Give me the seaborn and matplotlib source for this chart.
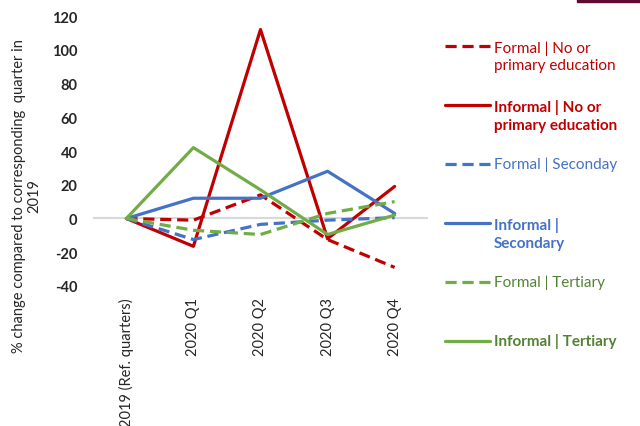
import pandas as pd
import seaborn as sns
import matplotlib.pyplot as plt
from matplotlib.lines import Line2D
from matplotlib.patches import Rectangle

quarters = ['2019 (Ref. quarters)', '2020 Q1', '2020 Q2', '2020 Q3', '2020 Q4']

series_names = [
    'Formal | No or\nprimary education',
    'Informal | No or\nprimary education',
    'Formal | Seconday',
    'Informal |\nSecondary',
    'Formal | Tertiary',
    'Informal | Tertiary',
]

formal_primary = [0, -1, 14, -12.5, -29]
informal_primary = [0, -16.5, 112, -12, 19]
formal_secondary = [0, -12.5, -3.5, -1, 0.5]
informal_secondary = [0, 12, 12, 28, 3]
formal_tertiary = [0, -7, -9.5, 3, 10]
informal_tertiary = [0, 42, 17, -9.5, 2]

values = [formal_primary, informal_primary, formal_secondary,
          informal_secondary, formal_tertiary, informal_tertiary]

red, blue, green = '#C00000', '#4472C4', '#70AD47'
line_colors = [red, red, blue, blue, green, green]
text_colors = [red, red, blue, blue, '#548235', '#548235']
is_formal = [True, False, True, False, True, False]

rows = []
for name, vals in zip(series_names, values):
    for q, v in zip(quarters, vals):
        rows.append({'quarter': q, 'change': v, 'series': name})
df = pd.DataFrame(rows)

sns.set_style('white')
plt.rcParams['font.family'] = ['Lato', 'DejaVu Sans']
plt.rcParams['axes.unicode_minus'] = False

fig = plt.figure(figsize=(6.4, 4.27), dpi=100)
ax = fig.add_axes([0.145, 0.328, 0.524, 0.632])

palette = dict(zip(series_names, line_colors))
dash = (3.5, 1.8)
dashes = {n: (dash if f else '') for n, f in zip(series_names, is_formal)}

ax.axhline(0, color='#D9D9D9', lw=1.5, zorder=0)
sns.lineplot(data=df, x='quarter', y='change', hue='series', style='series',
             palette=palette, dashes=dashes, lw=2.3, sort=False, legend=False, ax=ax)

ax.set_xlim(-0.5, 4.5)
ax.set_ylim(-40, 120)
ax.set_yticks(range(-40, 121, 20))
for s in ax.spines.values():
    s.set_visible(False)
ax.tick_params(axis='y', length=0, labelsize=10.5, pad=11, labelcolor='#262626')
for t in ax.get_yticklabels():
    t.set_fontweight('bold')
ax.tick_params(axis='x', length=0, labelsize=10.5, labelrotation=90, pad=8, labelcolor='#262626')
ax.set_xlabel('')
ax.set_ylabel('')
fig.text(27 / 640, 1 - 196 / 427, '% change compared to corresponding  quarter in\n2019',
         rotation=90, ha='center', va='center', fontsize=10.5, color='#262626', linespacing=1.1)

# legend drawn by hand on the right
y0, step = 47, 59
for i, (name, lc, tc, f) in enumerate(zip(series_names, line_colors, text_colors, is_formal)):
    ypx = y0 + i * step
    yf = 1 - ypx / 427
    ln = Line2D([445 / 640, 490 / 640], [yf, yf], color=lc, lw=2.3,
                linestyle=(0, dash) if f else '-', transform=fig.transFigure)
    fig.add_artist(ln)
    ty = yf - 10.5 / 427 if '\n' in name else yf
    fig.text(494 / 640, ty, name, color=tc, fontsize=11,
             fontweight='normal' if f else 'bold', va='center', ha='left', linespacing=1.3)

fig.add_artist(Rectangle((577 / 640, 1 - 3 / 427), 63 / 640, 3 / 427,
                         color='#5E0A35', transform=fig.transFigure))

fig.savefig('out.png', dpi=100)
